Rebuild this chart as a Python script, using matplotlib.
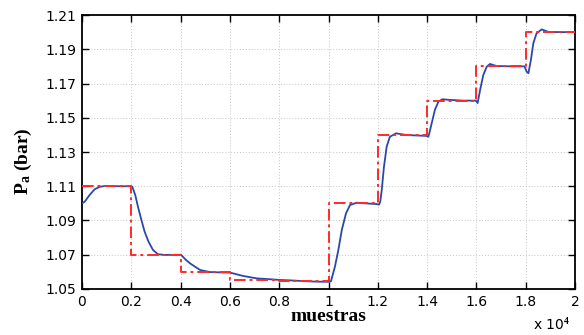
import matplotlib
matplotlib.use("Agg")
import matplotlib.pyplot as plt
import numpy as np

# ---- data (x in samples) ----
ref_edges = [0, 2000, 4000, 6000, 8000, 10000, 12000, 14000, 16000, 18000, 20000]
ref_levels = [1.11, 1.07, 1.06, 1.0555, 1.0545, 1.10, 1.14, 1.16, 1.18, 1.20]

resp_x = [0, 110, 310, 510, 720, 920, 1500, 2000, 2040, 2160, 2270, 2410, 2540,
          2700, 2880, 3080, 3350, 4000, 4050, 4200, 4380, 4790, 5190, 5600, 6000, 6540,
          7090, 7630, 8000, 8500, 9000, 9500, 10000, 10100, 10260, 10400, 10540,
          10710, 10870, 11140, 11500, 11950, 12050, 12100, 12160, 12250, 12360, 12490,
          12740, 13170, 13980, 14050, 14100, 14190, 14320, 14460, 14620, 14930, 15500,
          15980, 16050, 16150, 16280, 16420, 16550, 16820, 17400, 17950, 18040,
          18110, 18210, 18310, 18440, 18650, 18920, 19500, 20000]
resp_y = [1.1000, 1.1010, 1.1049, 1.1082, 1.1097, 1.1101, 1.1100, 1.1100, 1.1097,
          1.1049, 1.0981, 1.0903, 1.0835, 1.0776, 1.0728, 1.0703, 1.0699, 1.0700,
          1.0695, 1.0672, 1.0650, 1.0611, 1.0599, 1.0597, 1.0596, 1.0576, 1.0562, 1.0557,
          1.0553, 1.0550, 1.0546, 1.0543, 1.0542, 1.0545, 1.0630, 1.0728, 1.0845,
          1.0942, 1.0990, 1.1004, 1.1000, 1.0996, 1.0993, 1.1010, 1.1078, 1.1214, 1.1331,
          1.1389, 1.1409, 1.1399, 1.1394, 1.1389, 1.1415, 1.1470, 1.1548, 1.1594, 1.1608,
          1.1604, 1.1600, 1.1600, 1.1586, 1.1662, 1.1750, 1.1798, 1.1814, 1.1802,
          1.1800, 1.1800, 1.1769, 1.1760, 1.1837, 1.1935, 1.1993, 1.2016, 1.2001,
          1.2000, 1.2000]

xticks = [0, 2000, 4000, 6000, 8000, 10000, 12000, 14000, 16000, 18000, 20000]
xtick_labels = ['0', '0.2', '0.4', '0.6', '0.8', '1', '1.2', '1.4', '1.6', '1.8', '2']
yticks = [1.05, 1.07, 1.09, 1.11, 1.13, 1.15, 1.17, 1.19, 1.21]
ytick_labels = ['1.05', '1.07', '1.09', '1.11', '1.13', '1.15', '1.17', '1.19', '1.21']

plt.rcParams['mathtext.fontset'] = 'custom'
plt.rcParams['mathtext.rm'] = 'Liberation Serif:bold'
plt.rcParams['mathtext.bf'] = 'Liberation Serif:bold'
plt.rcParams['mathtext.it'] = 'Liberation Serif:bold'

fig = plt.figure(figsize=(5.84, 3.35), dpi=100)
ax = fig.add_axes([82/584, 1-289/335, (575-82)/584, (289-15)/335])

ax.plot(resp_x, resp_y, color='#2a48a8', lw=1.3, zorder=3)
ax.step(ref_edges, ref_levels + [ref_levels[-1]], where='post',
        color='#ff2a2a', lw=1.4, linestyle=(0, (6, 2, 1.5, 2)), zorder=4)

ax.set_xlim(0, 20000)
ax.set_ylim(1.05, 1.21)
ax.set_xticks(xticks)
ax.set_xticklabels(xtick_labels)
ax.set_yticks(yticks)
ax.set_yticklabels(ytick_labels)
ax.grid(True, color='#c4c4c4', linestyle=(0, (1, 2)), lw=0.7)
ax.set_axisbelow(True)
ax.tick_params(direction='in', top=True, right=True, length=5, width=1.0,
               labelsize=10, pad=4)
for lab in ax.get_xticklabels() + ax.get_yticklabels():
    lab.set_family('DejaVu Sans')
for s in ax.spines.values():
    s.set_linewidth(1.3)

ax.set_xlabel('muestras', family='Liberation Serif', weight='bold', fontsize=14,
              labelpad=0)
ax.xaxis.set_label_coords(0.5, -0.07)
ax.set_ylabel(r'$\mathbf{P_a}$ (bar)', family='Liberation Serif', weight='bold',
              fontsize=14)
ax.yaxis.set_label_coords(-0.098, 0.465)

fig.text(533/584, 1-333/335, r'x 10$^{4}$', family='DejaVu Sans', fontsize=10,
         ha='left', va='bottom')

fig.savefig('out.png', dpi=100)
